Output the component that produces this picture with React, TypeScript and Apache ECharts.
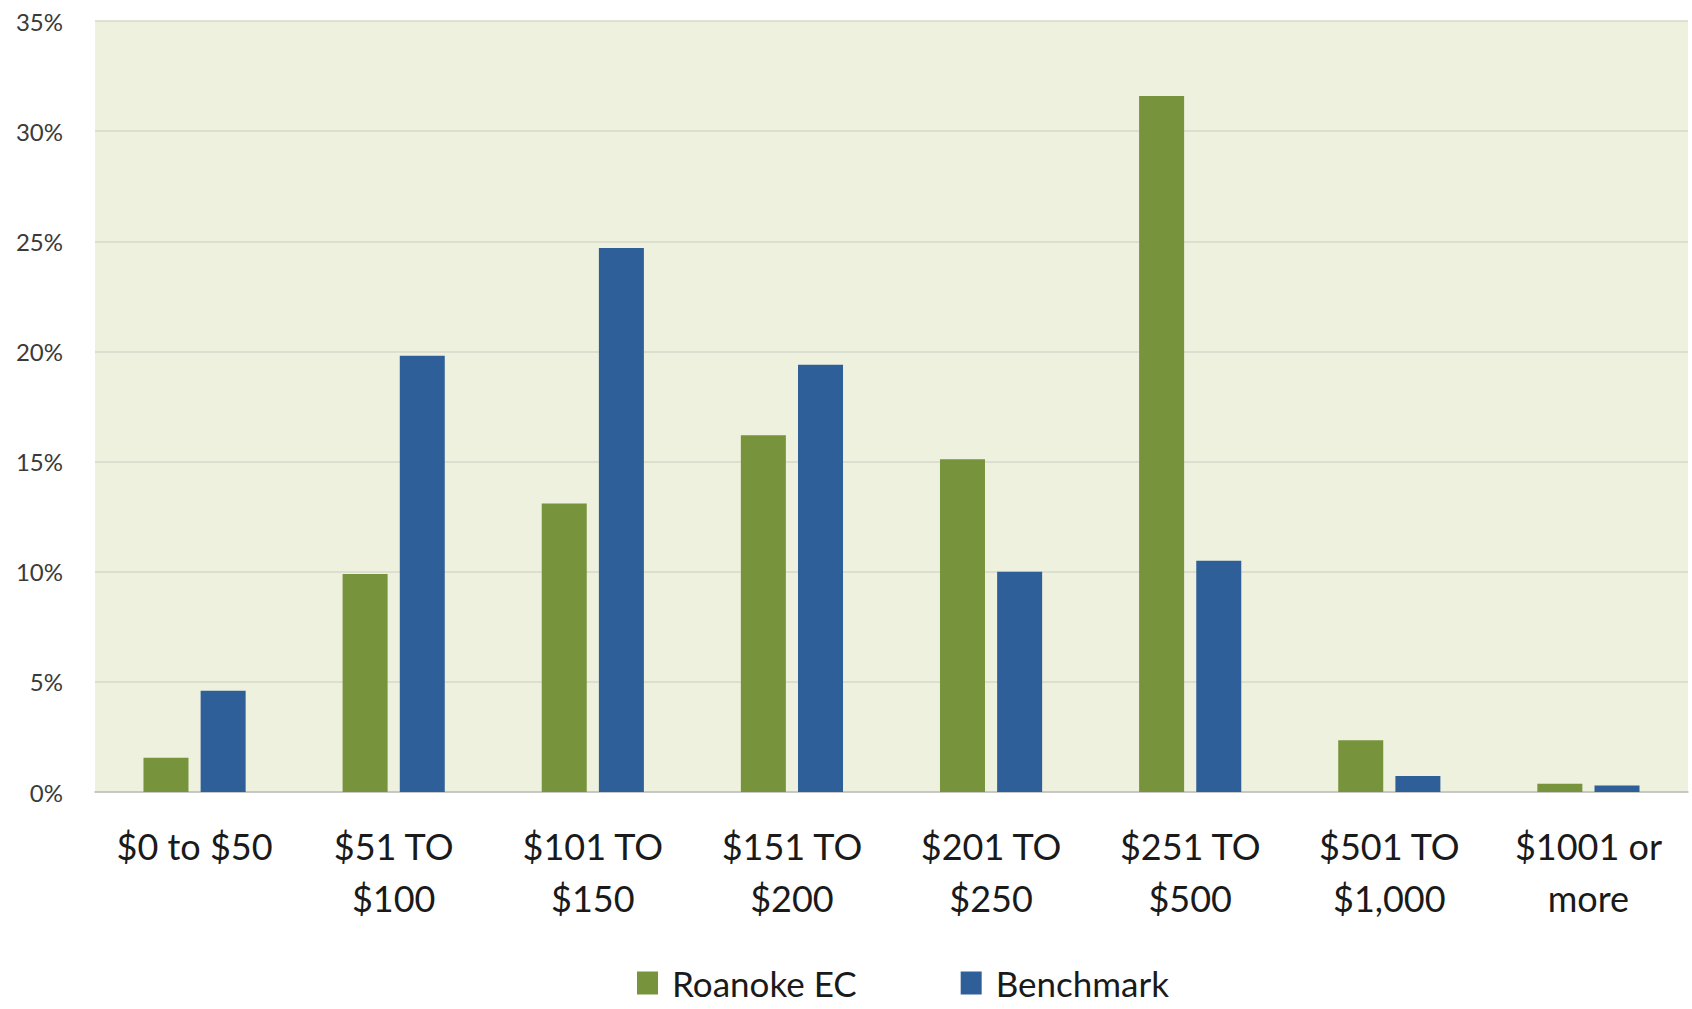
import React, { useEffect, useRef } from "react";
import * as echarts from "echarts";

const categories = [
  "$0 to $50",
  "$51 TO\n$100",
  "$101 TO\n$150",
  "$151 TO\n$200",
  "$201 TO\n$250",
  "$251 TO\n$500",
  "$501 TO\n$1,000",
  "$1001 or\nmore",
];
const roanoke = [1.55, 9.9, 13.1, 16.2, 15.1, 31.6, 2.35, 0.38];
const benchmark = [4.6, 19.8, 24.7, 19.4, 10.0, 10.5, 0.73, 0.29];
const seriesNames = ["Roanoke EC", "Benchmark"];
const yTicks = { min: 0, max: 35, interval: 5 };

export default function App() {
  const ref = useRef<HTMLDivElement>(null);
  useEffect(() => {
    if (!ref.current) return;
    const chart = echarts.init(ref.current, null, { renderer: "svg" });
    chart.setOption({
      animation: false,
      backgroundColor: "#ffffff",
      grid: {
        left: 95,
        right: 4,
        top: 21,
        bottom: 1009 - 792,
        show: true,
        backgroundColor: "#EEF1DE",
        borderWidth: 0,
      },
      legend: {
        left: 637,
        bottom: 6,
        padding: 0,
        itemWidth: 21,
        itemHeight: 23,
        itemGap: 104,
        icon: "rect",
        data: seriesNames,
        textStyle: {
          fontFamily: "Lato",
          fontSize: 35,
          lineHeight: 40,
          color: "#1a1a1a",
          padding: [0, 0, 0, 9],
        },
      },
      xAxis: {
        type: "category",
        data: categories,
        axisTick: { show: false },
        axisLine: { show: true, lineStyle: { color: "#BFBFBF", width: 1.5 } },
        axisLabel: {
          fontFamily: "Lato",
          fontSize: 36,
          lineHeight: 52,
          margin: 28,
          color: "#1a1a1a",
          interval: 0,
        },
      },
      yAxis: {
        type: "value",
        min: yTicks.min,
        max: yTicks.max,
        interval: yTicks.interval,
        axisLine: { show: false },
        axisTick: { show: false },
        splitLine: { lineStyle: { color: "#D6D8CA", width: 1.5 } },
        axisLabel: {
          formatter: "{value}%",
          fontFamily: "Lato",
          fontSize: 24,
          margin: 32,
          color: "#3a3a3a",
        },
      },
      series: [
        {
          name: seriesNames[0],
          type: "bar",
          data: roanoke,
          barWidth: 45,
          barGap: "27%",
          itemStyle: { color: "#77933C" },
        },
        {
          name: seriesNames[1],
          type: "bar",
          data: benchmark,
          barWidth: 45,
          barGap: "27%",
          itemStyle: { color: "#2F5F98" },
        },
      ],
    });
    return () => chart.dispose();
  }, []);
  return (
    <div
      ref={ref}
      style={{ position: "fixed", left: 0, top: 0, width: 1692, height: 1009 }}
    />
  );
}
